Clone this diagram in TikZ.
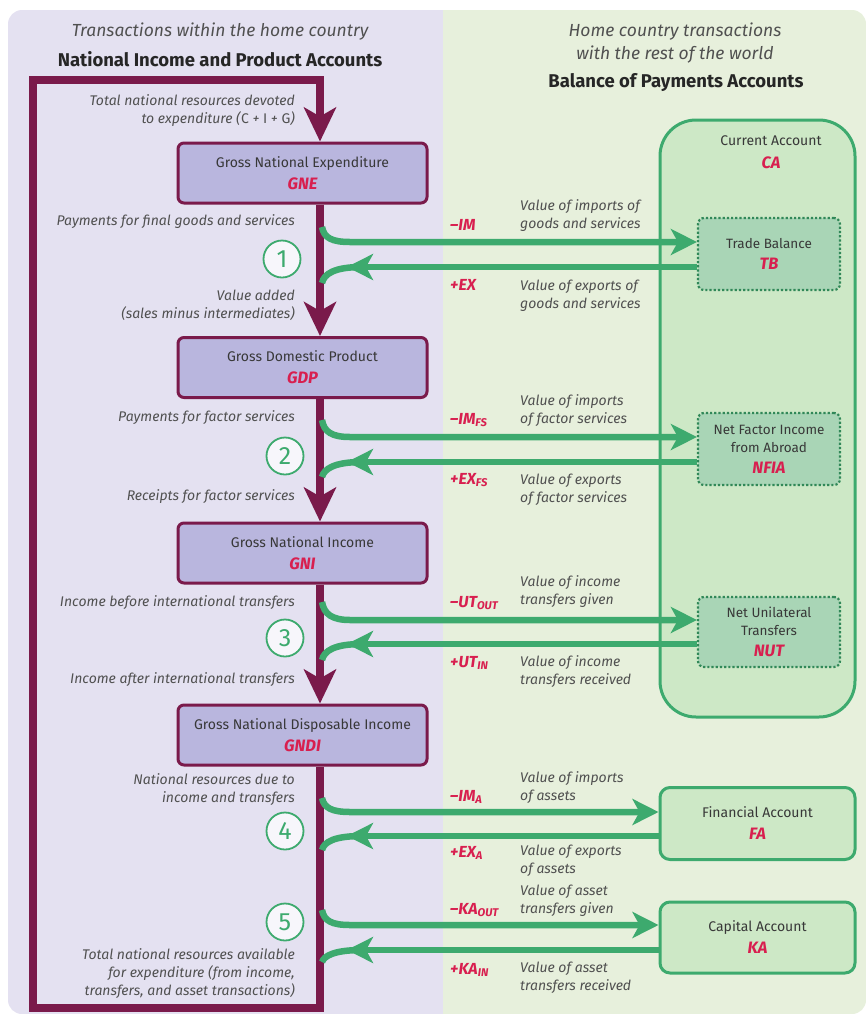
\documentclass[tikz,border=0pt]{standalone}
\usepackage{fontspec}
\setmainfont{Fira Sans}
\usetikzlibrary{arrows.meta}
\definecolor{maroonc}{HTML}{7A1A4B}
\definecolor{lavbg}{HTML}{E4E1F1}
\definecolor{grnbg}{HTML}{E7F0DC}
\definecolor{boxfill}{HTML}{B9B6DE}
\definecolor{gline}{HTML}{3DAA6E}
\definecolor{cafill}{HTML}{CDE8C6}
\definecolor{tbfill}{HTML}{A9D5B6}
\definecolor{redc}{HTML}{D81F4F}
\definecolor{txt}{HTML}{383838}
\definecolor{itxt}{HTML}{505050}
\tikzset{
  mline/.style={draw=maroonc, line width=8pt},
  mhead/.style={-{Stealth[length=34pt,width=32pt,inset=9pt]}},
  nipa/.style={draw=maroonc, line width=3pt, fill=boxfill, rounded corners=6pt,
    minimum width=249pt, minimum height=60pt, align=center, text=txt,
    font=\fontsize{14}{22}\selectfont},
  glink/.style={draw=gline, line width=6.5pt},
  ghead/.style={-{Stealth[length=26pt,width=26pt,inset=7pt]}},
  subacct/.style={draw=gline!80!black, line width=2.2pt, dotted, fill=tbfill,
    rounded corners=6pt, minimum width=142pt, minimum height=72pt, align=center,
    text=txt, font=\fontsize{13.5}{18}\selectfont},
  acct/.style={draw=gline, line width=3pt, fill=cafill, rounded corners=10pt,
    minimum width=195pt, minimum height=72pt, align=center, text=txt,
    font=\fontsize{14}{22}\selectfont},
  abbr/.style={text=redc, font=\fontsize{16.5}{18}\bfseries\itshape\selectfont},
  flowlbl/.style={text=itxt, align=right, anchor=east, inner sep=0pt,
    font=\fontsize{14}{18}\itshape\selectfont},
  bplbl/.style={text=itxt, align=left, anchor=west, inner sep=0pt,
    font=\fontsize{14}{18}\itshape\selectfont},
  sign/.style={text=redc, anchor=west, inner sep=0pt,
    font=\fontsize{16}{18}\bfseries\itshape\selectfont},
  stepnum/.style={circle, draw=gline, line width=1.8pt, fill=white!70!lavbg,
    minimum size=37pt, inner sep=0pt, text=gline,
    font=\fontsize{25}{25}\selectfont},
  hdr/.style={text=itxt, align=center, font=\fontsize{17.5}{23}\itshape\selectfont},
  hdrb/.style={text=black!85, align=center, font=\fontsize{18.5}{20}\bfseries\selectfont}
}
\newcommand{\acr}[1]{{\color{redc}\fontsize{16.5}{18}\bfseries\itshape #1}}
\begin{document}
\begin{tikzpicture}[x=1pt,y=-1pt]
\useasboundingbox (0,0) rectangle (867,1018);

% two background panels
\begin{scope}
  \clip[rounded corners=14pt] (8,10) rectangle (866,1014);
  \fill[lavbg] (8,10) rectangle (443,1014);
  \fill[grnbg] (443,10) rectangle (866,1014);
\end{scope}

% headings
\node[hdr]  (hl1) at (220,32) {Transactions within the home country};
\node[hdrb] (hl2) at (220,59) {National Income and Product Accounts};
\node[hdr]  (hr1) at (675,43) {Home country transactions\\with the rest of the world};
\node[hdrb] (hr2) at (676,83) {Balance of Payments Accounts};

% national accounts boxes
\node[nipa] (GNE)  at (302.5,173)   {Gross National Expenditure\\\acr{GNE}};
\node[nipa] (GDP)  at (302.5,367.5) {Gross Domestic Product\\\acr{GDP}};
\node[nipa] (GNI)  at (302.5,553)   {Gross National Income\\\acr{GNI}};
\node[nipa] (GNDI) at (302.5,735)   {Gross National Disposable Income\\\acr{GNDI}};

% spine of the circular flow
\coordinate (mx) at (320,0);
\coordinate (lpTR) at (320,80);
\coordinate (lpTL) at (33,80);
\coordinate (lpBL) at (33,1008);
\coordinate (lpBR) at (320,1008);
\draw[mline,mhead] (GNE.south -| mx) -- (GDP.north -| mx);
\draw[mline,mhead] (GDP.south -| mx) -- (GNI.north -| mx);
\draw[mline,mhead] (GNI.south -| mx) -- (GNDI.north -| mx);
\draw[mline,mhead,line join=miter] (GNDI.south -| mx) -- (lpBR) -- (lpBL) -- (lpTL) -- (lpTR) -- (GNE.north -| mx);

% balance of payments boxes
\draw[draw=gline, line width=3pt, fill=cafill, rounded corners=36pt] (660,120) rectangle (855,717);
\node[text=txt, font=\fontsize{14}{18}\selectfont] (CAt) at (771,141) {Current Account};
\node[abbr] (CA) at (771,163) {CA};
\node[subacct] (TB)   at (769,254) {Trade Balance\\[3pt]\acr{TB}};
\node[subacct] (NFIA) at (769,449) {Net Factor Income\\from Abroad\\[3pt]\acr{NFIA}};
\node[subacct, minimum height=70pt] (NUT) at (769,632) {Net Unilateral\\Transfers\\[3pt]\acr{NUT}};
\node[acct] (FA) at (757.5,823.5) {Financial Account\\\acr{FA}};
\node[acct, minimum height=71pt] (KA) at (757.5,937.5) {Capital Account\\\acr{KA}};

% flows leaving and returning to the spine
% set 1: goods and services
\coordinate (s1) at (322,227); \coordinate (o1) at (350,242);
\coordinate (i1) at (347,267); \coordinate (e1) at (322,283);
\draw[glink,ghead] (s1) .. controls (324,238) and (332,242) .. (o1) -- (TB.west |- o1);
\draw[glink,ghead] (TB.west |- i1) -- (i1);
\draw[glink] (362,267) .. controls (334,267) and (324,274) .. (e1);
% set 2: factor services
\coordinate (s2) at (322,420); \coordinate (o2) at (350,437);
\coordinate (i2) at (347,462); \coordinate (e2) at (322,477);
\draw[glink,ghead] (s2) .. controls (324,432) and (332,437) .. (o2) -- (NFIA.west |- o2);
\draw[glink,ghead] (NFIA.west |- i2) -- (i2);
\draw[glink] (362,462) .. controls (334,462) and (324,469) .. (e2);
% set 3: income transfers
\coordinate (s3) at (322,602); \coordinate (o3) at (350,620);
\coordinate (i3) at (347,644); \coordinate (e3) at (322,660);
\draw[glink,ghead] (s3) .. controls (324,614) and (332,620) .. (o3) -- (NUT.west |- o3);
\draw[glink,ghead] (NUT.west |- i3) -- (i3);
\draw[glink] (362,644) .. controls (334,644) and (324,651) .. (e3);
% set 4: assets
\coordinate (s4) at (322,798); \coordinate (o4) at (350,812);
\coordinate (i4) at (347,836); \coordinate (e4) at (322,850);
\draw[glink,ghead] (s4) .. controls (324,808) and (332,812) .. (o4) -- (FA.west |- o4);
\draw[glink,ghead] (FA.west |- i4) -- (i4);
\draw[glink] (362,836) .. controls (334,836) and (324,842) .. (e4);
% set 5: asset transfers
\coordinate (s5) at (322,910); \coordinate (o5) at (350,925);
\coordinate (i5) at (347,950); \coordinate (e5) at (322,962);
\draw[glink,ghead] (s5) .. controls (324,921) and (332,925) .. (o5) -- (KA.west |- o5);
\draw[glink,ghead] (KA.west |- i5) -- (i5);
\draw[glink] (362,950) .. controls (334,950) and (324,956) .. (e5);

% numbered steps
\node[stepnum] (n1) at (282,259) {1};
\node[stepnum] (n2) at (285,456) {2};
\node[stepnum] (n3) at (285,638) {3};
\node[stepnum] (n4) at (285,831) {4};
\node[stepnum] (n5) at (285,922) {5};

% labels along the spine
\node[flowlbl] (l0) at (295,111) {Total national resources devoted\\to expenditure (\emph{C} + \emph{I} + \emph{G})};
\node[flowlbl] (l1a) at (295,222) {Payments for final goods and services};
\node[flowlbl] (l1b) at (295,305) {Value added\\(sales minus intermediates)};
\node[flowlbl] (l2a) at (295,418) {Payments for factor services};
\node[flowlbl] (l2b) at (295,497) {Receipts for factor services};
\node[flowlbl] (l3a) at (295,603) {Income before international transfers};
\node[flowlbl] (l3b) at (295,680) {Income after international transfers};
\node[flowlbl] (l4a) at (295,790) {National resources due to\\income and transfers};
\node[flowlbl] (l5b) at (295,974) {Total national resources available\\for expenditure (from income,\\transfers, and asset transactions)};

% labels along the external flows
\node[sign] (m1) at (450,225) {\textendash IM};
\node[bplbl] (v1) at (520,216) {Value of imports of\\goods and services};
\node[sign] (p1) at (450,285) {+EX};
\node[bplbl] (w1) at (520,296) {Value of exports of\\goods and services};

\node[sign] (m2) at (450,420) {\textendash IM\textsubscript{FS}};
\node[bplbl] (v2) at (520,411) {Value of imports\\of factor services};
\node[sign] (p2) at (450,480) {+EX\textsubscript{FS}};
\node[bplbl] (w2) at (520,490) {Value of exports\\of factor services};

\node[sign] (m3) at (450,603) {\textendash UT\textsubscript{OUT}};
\node[bplbl] (v3) at (520,592) {Value of income\\transfers given};
\node[sign] (p3) at (450,663) {+UT\textsubscript{IN}};
\node[bplbl] (w3) at (520,672) {Value of income\\transfers received};

\node[sign] (m4) at (450,797) {\textendash IM\textsubscript{A}};
\node[bplbl] (v4) at (520,788) {Value of imports\\of assets};
\node[sign] (p4) at (450,853) {+EX\textsubscript{A}};
\node[bplbl] (w4) at (520,861) {Value of exports\\of assets};

\node[sign] (m5) at (450,910) {\textendash KA\textsubscript{OUT}};
\node[bplbl] (v5) at (520,901) {Value of asset\\transfers given};
\node[sign] (p5) at (450,970) {+KA\textsubscript{IN}};
\node[bplbl] (w5) at (520,978) {Value of asset\\transfers received};
\end{tikzpicture}
\end{document}
